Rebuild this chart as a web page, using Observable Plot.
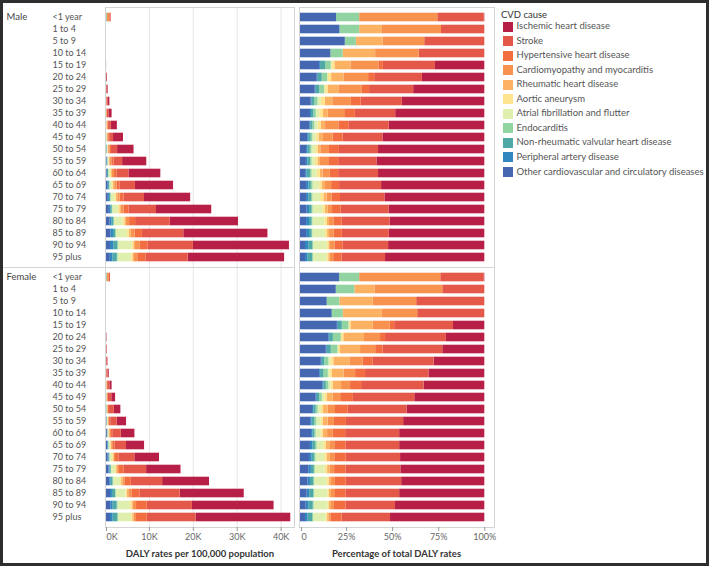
<!DOCTYPE html>
<html>
<head>
<meta charset="utf-8">
<script src="https://cdn.jsdelivr.net/npm/d3@7"></script>
<script src="https://cdn.jsdelivr.net/npm/@observablehq/plot@0.6"></script>
<style>
  html, body { margin: 0; padding: 0; background: #fff; }
  #root { position: relative; width: 709px; height: 566px; overflow: hidden; font-family: Lato, "Open Sans", sans-serif; }
  .abs { position: absolute; }
  #frameBorder { position: absolute; left: 0; top: 0; width: 709px; height: 566px; box-sizing: border-box; border: 3px solid #2e2e2e; pointer-events: none; }
  .axTitle { position: absolute; font-size: 9.5px; font-weight: 700; color: #333; text-align: center; white-space: nowrap; }
  .legTitle { position: absolute; font-size: 9.5px; color: #333; white-space: nowrap; }
  .legItem { position: absolute; font-size: 9.5px; color: #555; white-space: nowrap; line-height: 12px; }
  .sw { position: absolute; width: 10px; height: 10px; }
</style>
</head>
<body>
<div id="root"></div>
<script>
// ---------- DATA ----------
const sexes = ["Male", "Female"];
const ages = ["<1 year", "1 to 4", "5 to 9", "10 to 14", "15 to 19", "20 to 24", "25 to 29",
  "30 to 34", "35 to 39", "40 to 44", "45 to 49", "50 to 54", "55 to 59", "60 to 64",
  "65 to 69", "70 to 74", "75 to 79", "80 to 84", "85 to 89", "90 to 94", "95 plus"];
const causes = ["Ischemic heart disease", "Stroke", "Hypertensive heart disease",
  "Cardiomyopathy and myocarditis", "Rheumatic heart disease", "Aortic aneurysm",
  "Atrial fibrillation and flutter", "Endocarditis", "Non-rheumatic valvular heart disease",
  "Peripheral artery disease", "Other cardiovascular and circulatory diseases"];
const causeColors = ["#b81f46", "#e4584a", "#f26d3f", "#f8924f", "#fdb263", "#fee48f",
  "#dff0ae", "#92d3a2", "#4ea8a6", "#3186c0", "#4566b0"];

// total DALY rate per 100,000 (thousands)
const maleTotal = [1.3, 0.23, 0.2, 0.2, 0.25, 0.45, 0.6, 1.0, 1.5, 2.7, 4.1, 6.5, 9.4, 12.6, 15.5, 19.4, 24.2, 30.3, 37.0, 41.9, 40.8];
const femaleTotal = [1.15, 0.2, 0.2, 0.2, 0.2, 0.35, 0.4, 0.55, 0.85, 1.5, 2.3, 3.5, 4.8, 6.7, 8.9, 12.3, 17.2, 23.7, 31.6, 38.4, 42.2];

// share of total DALY rate (%) by cause, male
const m_ihd    = [0.3, 0, 0, 0, 26.8, 33.9, 38.6, 44.7, 48.4, 51.8, 55.3, 57.6, 58.5, 57.6, 56.0, 54.2, 52.0, 51.4, 51.8, 52.2, 53.8];
const m_stroke = [25.2, 23.5, 32.6, 35.7, 28.3, 25.9, 23.9, 22.3, 21.9, 21.9, 21.6, 21.2, 20.7, 21.6, 22.8, 24.1, 25.9, 25.9, 25.5, 24.8, 23.6];
const m_hyp    = [0, 0, 0, 0, 2.4, 3.3, 4.2, 5.3, 5.8, 5.4, 5.4, 5.4, 5.4, 4.5, 4.3, 4.5, 4.7, 4.5, 4.5, 4.3, 4.5];
const m_cardio = [42.4, 32.4, 22.6, 23.6, 15.2, 13.4, 12.5, 10.1, 8.9, 7.2, 5.6, 4.7, 4.5, 4.0, 3.3, 2.7, 2.5, 2.4, 2.4, 2.4, 1.8];
const m_rheum  = [0, 12.0, 14.5, 17.6, 8.7, 6.7, 5.8, 4.0, 2.7, 2.4, 2.0, 1.4, 1.3, 1.4, 1.8, 1.8, 1.4, 1.1, 1.1, 0.9, 0.9];
const m_aortic = [0, 0, 0, 0, 1.6, 1.7, 1.4, 2.2, 2.0, 1.6, 1.6, 1.4, 1.4, 1.8, 1.4, 1.8, 1.4, 1.4, 1.1, 0.9, 0.9];
const m_afib   = [0, 0, 0, 0, 0.4, 0.5, 0.6, 1.8, 1.8, 1.8, 1.8, 2.0, 1.8, 2.7, 3.6, 4.2, 5.3, 6.5, 6.9, 7.4, 7.4];
const m_endo   = [12.5, 10.7, 6.0, 6.7, 3.1, 2.9, 2.5, 1.8, 1.3, 1.1, 0.9, 0.9, 0.9, 0.9, 0.9, 0.7, 0.5, 0.4, 0.4, 0.4, 0.4];
const m_valv   = [0, 0, 0, 0, 2.7, 2.2, 2.0, 1.4, 1.3, 1.1, 1.3, 1.3, 1.4, 1.8, 1.3, 1.4, 1.4, 1.4, 1.4, 2.2, 2.5];
const m_pad    = [0, 0, 0, 0, 0.5, 0.5, 0.5, 0.5, 0.6, 0.6, 0.6, 0.7, 0.8, 0.8, 1.3, 1.3, 1.3, 1.6, 1.6, 1.8, 1.4];
const m_other  = [19.6, 21.4, 24.3, 16.5, 10.4, 9.1, 8.0, 5.8, 5.4, 5.0, 3.9, 3.3, 3.2, 2.8, 3.3, 3.3, 3.6, 3.3, 3.3, 2.7, 2.7];

// share of total DALY rate (%) by cause, female
const f_ihd    = [0.3, 0, 0, 0, 17.0, 20.8, 22.8, 27.5, 30.3, 33.0, 38.0, 42.2, 44.0, 46.2, 46.2, 45.7, 45.5, 45.1, 46.2, 48.4, 51.1];
const f_stroke = [23.6, 22.8, 37.0, 36.4, 31.9, 33.0, 32.4, 33.2, 34.4, 33.9, 33.3, 31.9, 31.0, 29.3, 29.0, 29.5, 29.7, 30.1, 29.0, 26.8, 26.3];
const f_hyp    = [0, 0, 0, 0, 2.5, 2.7, 4.0, 5.3, 5.4, 6.0, 6.9, 6.9, 6.5, 6.7, 6.2, 6.2, 6.2, 5.8, 5.8, 6.3, 5.8];
const f_cardio = [44.0, 36.8, 23.6, 19.2, 9.1, 8.7, 8.2, 7.2, 6.3, 4.9, 4.0, 4.0, 3.4, 3.1, 2.7, 2.4, 2.4, 2.2, 2.2, 2.0, 1.3];
const f_rheum  = [0, 10.9, 18.1, 21.2, 12.1, 11.2, 10.9, 8.7, 6.3, 4.5, 3.3, 2.5, 2.7, 2.4, 2.0, 1.8, 1.4, 1.3, 1.1, 0.7, 0.7];
const f_aortic = [0, 0, 0, 0, 1.1, 1.4, 1.1, 1.6, 1.3, 1.3, 1.4, 1.1, 1.1, 1.1, 1.3, 1.3, 1.3, 1.1, 0.9, 0.9, 0.7];
const f_afib   = [0, 0, 0, 0, 0, 0, 0.3, 1.1, 0.9, 1.1, 1.3, 1.8, 2.4, 2.7, 3.6, 4.7, 5.4, 6.7, 7.1, 7.4, 6.9];
const f_endo   = [10.9, 10.1, 6.9, 6.0, 3.6, 4.3, 3.6, 2.2, 2.4, 1.4, 1.4, 1.1, 1.1, 0.7, 0.9, 0.7, 0.5, 0.5, 0.5, 0.5, 0.5];
const f_valv   = [0, 0, 0, 0, 2.2, 2.0, 2.2, 1.4, 1.8, 1.3, 1.3, 1.3, 1.4, 1.1, 1.4, 1.4, 1.6, 1.8, 2.2, 2.4, 2.5];
const f_pad    = [0, 0, 0, 0, 0.5, 0.5, 0.5, 0.5, 0.5, 0.6, 0.6, 0.7, 0.8, 0.7, 1.3, 1.4, 1.4, 1.4, 1.4, 1.4, 1.4];
const f_other  = [21.2, 19.4, 14.5, 17.2, 20.0, 15.3, 14.0, 11.3, 10.4, 12.1, 8.5, 6.5, 5.5, 6.0, 5.4, 4.9, 4.5, 4.0, 3.6, 3.1, 2.7];

const xTicksRate = [0, 10000, 20000, 30000, 40000];
const xTicksPct = [0, 0.25, 0.5, 0.75, 1];

// ---------- TABLE ----------
const maleShares = [m_ihd, m_stroke, m_hyp, m_cardio, m_rheum, m_aortic, m_afib, m_endo, m_valv, m_pad, m_other];
const femaleShares = [f_ihd, f_stroke, f_hyp, f_cardio, f_rheum, f_aortic, f_afib, f_endo, f_valv, f_pad, f_other];
const rows = [];
for (const [sex, totals, shares] of [["Male", maleTotal, maleShares], ["Female", femaleTotal, femaleShares]]) {
  ages.forEach((age, i) => {
    const s = d3.sum(shares, a => a[i]);
    causes.forEach((cause, j) => {
      rows.push({sex, age, cause, rate: totals[i] * 1000 * shares[j][i] / s});
    });
  });
}
const stackOrder = causes.slice().reverse();

// ---------- LAYOUT ----------
const root = document.getElementById("root");
const FONT = "Lato, 'Open Sans', sans-serif";
const H = 545, MT = 7, MB = 18;

const common = {
  fy: {domain: sexes, padding: 0, axis: null, label: null},
  y: {domain: ages, padding: 0, axis: null, label: null},
  color: {domain: causes, range: causeColors}
};

const left = Plot.plot({
  ...common,
  width: 297, height: H, marginLeft: 105, marginRight: 3, marginTop: MT, marginBottom: MB,
  style: {fontFamily: FONT, fontSize: "9px", color: "#555", background: "transparent", maxWidth: "none", overflow: "visible"},
  x: {domain: [0, 43050], axis: null, label: null},
  marks: [
    Plot.gridX({ticks: xTicksRate.slice(1), stroke: "#e6e6e6", strokeOpacity: 1}),
    Plot.barX(rows, {x: "rate", y: "age", fy: "sex", fill: "cause", order: stackOrder, insetTop: 1.7, insetBottom: 1.7}),
    Plot.frame({stroke: "#d4d4d4"}),
    Plot.axisY({tickSize: 0, tickPadding: 0, textAnchor: "start", dx: -53, fill: "#555", fontSize: 9, label: null}),
    Plot.text(sexes, {fy: d => d, text: d => d, frameAnchor: "top-left", dx: -99, dy: 6.2, textAnchor: "start", fill: "#444", fontSize: 9.5}),
    Plot.axisX({ticks: xTicksRate.slice(0, 1), tickFormat: d => d / 1000 + "K", tickSize: 4, tickPadding: 2, textAnchor: "start", dx: 1, stroke: "#999", fill: "#666", fontSize: 9, label: null}),
    Plot.axisX({ticks: xTicksRate.slice(1), tickFormat: d => d / 1000 + "K", tickSize: 4, tickPadding: 2, stroke: "#999", fill: "#666", fontSize: 9, label: null})
  ]
});

const right = Plot.plot({
  ...common,
  width: 210, height: H, marginLeft: 9, marginRight: 6, marginTop: MT, marginBottom: MB,
  style: {fontFamily: FONT, fontSize: "9px", color: "#555", background: "transparent", maxWidth: "none", overflow: "visible"},
  x: {domain: [-0.0054, 1.0526], axis: null, label: null},
  marks: [
    Plot.barX(rows, {x: "rate", y: "age", fy: "sex", fill: "cause", order: stackOrder, offset: "normalize", insetTop: 1.7, insetBottom: 1.7}),
    Plot.frame({stroke: "#d4d4d4"}),
    Plot.axisX({ticks: xTicksPct.slice(0, 1), tickFormat: () => "0", tickSize: 4, tickPadding: 2, textAnchor: "start", dx: 1, stroke: "#999", fill: "#666", fontSize: 9, label: null}),
    Plot.axisX({ticks: xTicksPct.slice(1), tickFormat: d => Math.round(d * 100) + "%", tickSize: 4, tickPadding: 2, stroke: "#999", fill: "#666", fontSize: 9, label: null})
  ]
});

function place(el, x, y) {
  const d = document.createElement("div");
  d.className = "abs";
  d.style.left = x + "px";
  d.style.top = y + "px";
  d.appendChild(el);
  root.appendChild(d);
  return d;
}
place(left, 0, 0);
place(right, 290, 0);

// separator between Male and Female in header area
const sep = document.createElement("div");
sep.className = "abs";
Object.assign(sep.style, {left: "0px", top: "267px", width: "105px", height: "1px", background: "#d4d4d4"});
root.appendChild(sep);

// axis titles
function axTitle(text, x, w) {
  const d = document.createElement("div");
  d.className = "axTitle";
  d.textContent = text;
  Object.assign(d.style, {left: x + "px", width: w + "px", top: "548px"});
  root.appendChild(d);
}
axTitle("DALY rates per 100,000 population", 105, 190);
axTitle("Percentage of total DALY rates", 299, 195);

// legend
const lt = document.createElement("div");
lt.className = "legTitle";
lt.textContent = "CVD cause";
Object.assign(lt.style, {left: "501px", top: "9px"});
root.appendChild(lt);
causes.forEach((c, i) => {
  const cy = 26.7 + i * 14.53;
  const sw = document.createElement("div");
  sw.className = "sw";
  Object.assign(sw.style, {left: "502.5px", top: (cy - 5) + "px", background: causeColors[i]});
  root.appendChild(sw);
  const t = document.createElement("div");
  t.className = "legItem";
  t.textContent = c;
  Object.assign(t.style, {left: "516.5px", top: (cy - 6.5) + "px"});
  root.appendChild(t);
});

const border = document.createElement("div");
border.id = "frameBorder";
root.appendChild(border);
</script>
</body>
</html>
